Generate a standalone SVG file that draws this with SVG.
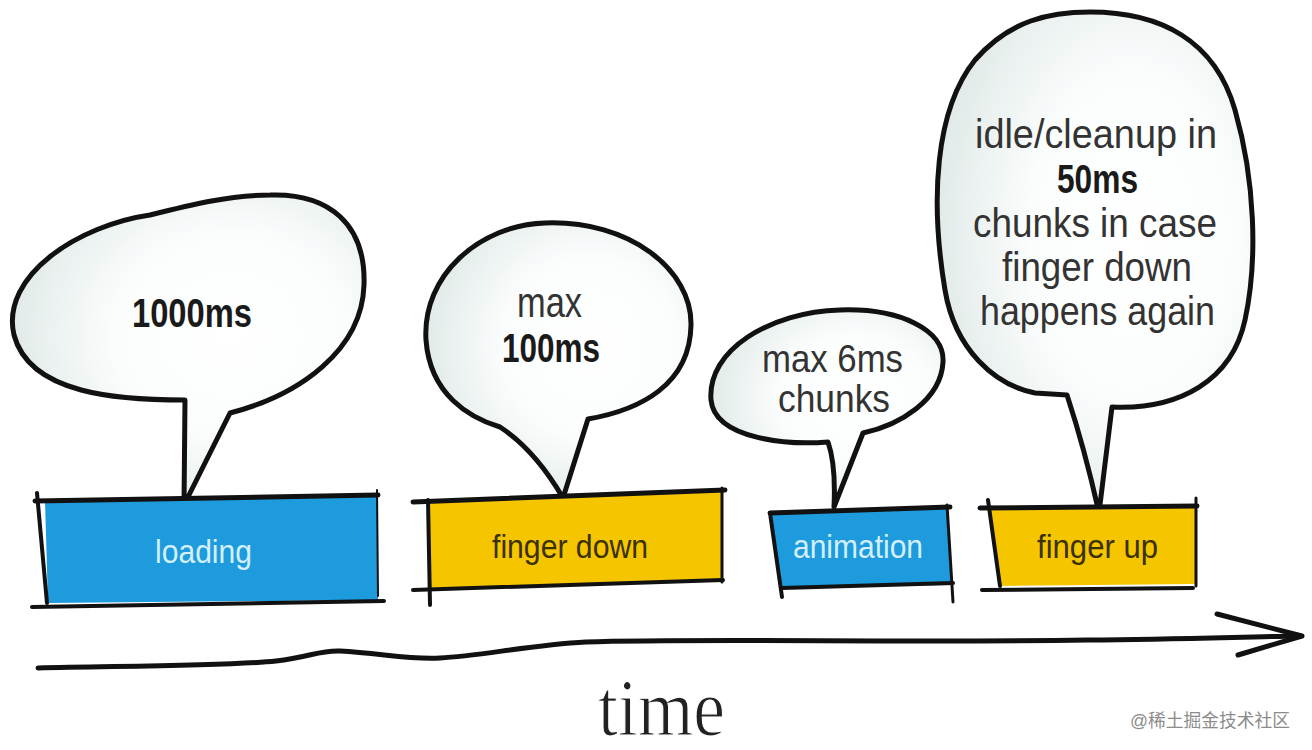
<svg xmlns="http://www.w3.org/2000/svg" width="1312" height="750" viewBox="0 0 1312 750">
<defs>
<radialGradient id="bg" cx="0.62" cy="0.45" r="0.65">
<stop offset="0" stop-color="#ffffff"/>
<stop offset="0.5" stop-color="#fbfdfd"/>
<stop offset="1" stop-color="#dfe9e7"/>
</radialGradient>
<style>
.bub{fill:url(#bg);stroke:#111;stroke-width:5;stroke-linejoin:round;stroke-linecap:round}
.edge{fill:none;stroke:#111;stroke-linecap:round}
.blue{fill:#1d9bdc}
.yellow{fill:#f5c500}
.bt{font-family:"Liberation Sans",Arial,sans-serif;fill:#333333}
.bold{font-weight:bold;fill:#1a1a1a}
.lb{font-family:"Liberation Sans",Arial,sans-serif;font-size:34px;fill:#d4efff}
.ly{font-family:"Liberation Sans",Arial,sans-serif;font-size:34px;fill:#3a3000}
</style>
</defs>
<rect width="1312" height="750" fill="#ffffff"/>

<g id="node-loading-bubble">
<path class="bub" d="M185,400 C120,400 30,395 14,335 C0,275 80,225 150,215 C190,205 230,195 270,195 C330,193 366,225 364,285 C362,350 300,395 230,413 L184,505 Z"/>
<text class="bt bold" x="132" y="327" font-size="40" textLength="120" lengthAdjust="spacingAndGlyphs">1000ms</text>
</g>

<g id="node-loading">
<polygon class="blue" points="45,500 378,496 378,600 48,603"/>
<path class="edge" stroke-width="5" d="M35,501 L378,495"/>
<path class="edge" stroke-width="4" d="M37,493 L47,603"/>
<path class="edge" stroke-width="4" d="M32,607 L384,601"/>
<path class="edge" stroke-width="2" d="M377,490 L378,596"/>
<text class="lb" x="155" y="563" textLength="97" lengthAdjust="spacingAndGlyphs">loading</text>
</g>

<g id="node-fingerdown-bubble">
<path class="bub" d="M500,427 C470,418 430,395 426,340 C422,275 480,225 545,223 C630,220 692,270 691,325 C690,385 640,410 588,419 L563,498 Q535,450 500,427 Z"/>
<text class="bt" x="517" y="317" font-size="42" textLength="65" lengthAdjust="spacingAndGlyphs">max</text>
<text class="bt bold" x="502" y="362" font-size="40" textLength="98" lengthAdjust="spacingAndGlyphs">100ms</text>
</g>

<g id="node-fingerdown">
<polygon class="yellow" points="428,502 723,492 722,580 430,588"/>
<path class="edge" stroke-width="5" d="M413,502 L725,490"/>
<path class="edge" stroke-width="4" d="M428,500 L430,605"/>
<path class="edge" stroke-width="4" d="M413,590 L723,580"/>
<path class="edge" stroke-width="3" d="M722,488 L722,582"/>
<text class="ly" x="492" y="558" textLength="156" lengthAdjust="spacingAndGlyphs">finger down</text>
</g>

<g id="node-animation-bubble">
<path class="bub" d="M828,442 C790,445 715,440 711,400 C707,350 770,312 840,310 C900,308 945,330 943,362 C941,400 900,425 863,433 L834,507 Q836,465 828,442 Z"/>
<text class="bt" x="762" y="372" font-size="38" textLength="141" lengthAdjust="spacingAndGlyphs">max 6ms</text>
<text class="bt" x="778" y="412" font-size="38" textLength="112" lengthAdjust="spacingAndGlyphs">chunks</text>
</g>

<g id="node-animation">
<polygon class="blue" points="770,513 947,508 952,585 782,588"/>
<path class="edge" stroke-width="5" d="M770,513 L950,507"/>
<path class="edge" stroke-width="4" d="M770,513 L782,597"/>
<path class="edge" stroke-width="4" d="M782,588 L953,583"/>
<path class="edge" stroke-width="3" d="M947,505 L953,602"/>
<text class="lb" x="793" y="558" textLength="130" lengthAdjust="spacingAndGlyphs">animation</text>
</g>

<g id="node-fingerup-bubble">
<path class="bub" stroke-width="6" d="M1067,395 L1035,393 C995,385 955,350 945,290 C930,200 935,110 975,60 C1010,20 1050,12 1090,12 C1160,12 1215,40 1235,110 C1255,180 1258,260 1245,320 C1232,380 1180,410 1112,407 L1099,513 Q1085,450 1067,395 Z"/>
<text class="bt" x="975" y="148" font-size="40" textLength="242" lengthAdjust="spacingAndGlyphs">idle/cleanup in</text>
<text class="bt bold" x="1057" y="193" font-size="40" textLength="81" lengthAdjust="spacingAndGlyphs">50ms</text>
<text class="bt" x="973" y="237" font-size="40" textLength="244" lengthAdjust="spacingAndGlyphs">chunks in case</text>
<text class="bt" x="1002" y="281" font-size="40" textLength="190" lengthAdjust="spacingAndGlyphs">finger down</text>
<text class="bt" x="980" y="325" font-size="40" textLength="235" lengthAdjust="spacingAndGlyphs">happens again</text>
</g>

<g id="node-fingerup">
<polygon class="yellow" points="988,507 1196,506 1196,584 1000,586"/>
<path class="edge" stroke-width="5" d="M980,508 L1197,506"/>
<path class="edge" stroke-width="4" d="M988,500 L1000,586"/>
<path class="edge" stroke-width="4" d="M982,590 L1193,588"/>
<path class="edge" stroke-width="3" d="M1196,498 L1196,586"/>
<text class="ly" x="1037" y="558" textLength="121" lengthAdjust="spacingAndGlyphs">finger up</text>
</g>

<g id="connectors">
<path class="edge" stroke-width="5" d="M38,668 C120,666 230,666 276,661 C310,657 320,650 340,651 C380,653 410,660 440,658 C480,656 530,645 586,642 C700,638 900,643 1088,640 C1180,639 1240,637 1300,636"/>
<path class="edge" stroke-width="5" stroke-linejoin="round" d="M1217,614 L1302,636 L1238,655"/>
</g>

<g id="labels">
<text x="598" y="735" font-family="'Liberation Serif','Times New Roman',serif" font-size="80" fill="#222" stroke="#ffffff" stroke-width="1.2" textLength="127" lengthAdjust="spacingAndGlyphs">time</text>
<text x="1130" y="727" font-family="'Liberation Sans','Noto Sans CJK SC',sans-serif" font-size="18" fill="#8c8c8c" textLength="160" lengthAdjust="spacingAndGlyphs">@稀土掘金技术社区</text>
</g>
</svg>
